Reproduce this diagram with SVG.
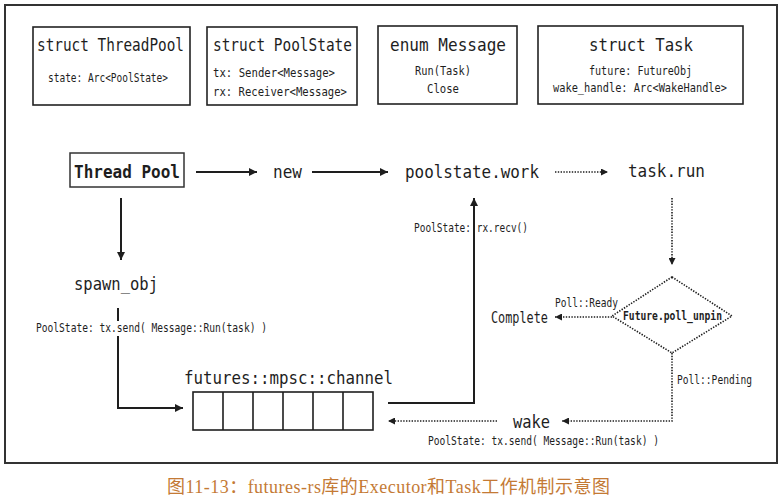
<svg xmlns="http://www.w3.org/2000/svg" width="782" height="499" viewBox="0 0 782 499">
<style>
  text { font-family: "DejaVu Sans Mono", "Liberation Mono", monospace; fill: #1e1e1e; }
  .title { font-size: 17px; }
  .small { font-size: 11.5px; }
  .mid { font-size: 18px; }
  .bold { font-weight: bold; }
  .box { fill: #fff; stroke: #222; stroke-width: 1.6; }
  .solid { fill: none; stroke: #1e1e1e; stroke-width: 2; }
  .dot { fill: none; stroke: #1e1e1e; stroke-width: 1.6; stroke-dasharray: 1.4 1.4; }
  .caption { font-family: "Liberation Serif", "Noto Sans CJK SC", serif; font-size: 18px; fill: #c47a35; }
</style>
<defs>
  <marker id="arr" viewBox="0 0 10 10" refX="10" refY="5" markerUnits="userSpaceOnUse" markerWidth="10" markerHeight="8" orient="auto">
    <path d="M0,0 L10,5 L0,10 z" fill="#1e1e1e"/>
  </marker>
  <marker id="arrs" viewBox="0 0 10 10" refX="10" refY="5" markerUnits="userSpaceOnUse" markerWidth="8" markerHeight="7" orient="auto">
    <path d="M0,0 L10,5 L0,10 z" fill="#1e1e1e"/>
  </marker>
</defs>

<rect x="5" y="5" width="772" height="458" fill="#fff" stroke="#333" stroke-width="2"/>

<g id="struct-threadpool">
  <rect class="box" x="33" y="27" width="157" height="78"/>
  <text class="title" x="37" y="51" textLength="147" lengthAdjust="spacingAndGlyphs">struct ThreadPool</text>
  <text class="small" x="48" y="82" textLength="120" lengthAdjust="spacingAndGlyphs">state: Arc&lt;PoolState&gt;</text>
</g>
<g id="struct-poolstate">
  <rect class="box" x="207" y="27" width="150" height="78"/>
  <text class="title" x="213" y="51" textLength="139" lengthAdjust="spacingAndGlyphs">struct PoolState</text>
  <text class="small" x="213" y="77" textLength="122" lengthAdjust="spacingAndGlyphs">tx: Sender&lt;Message&gt;</text>
  <text class="small" x="213" y="96" textLength="134" lengthAdjust="spacingAndGlyphs">rx: Receiver&lt;Message&gt;</text>
</g>
<g id="enum-message">
  <rect class="box" x="378" y="26" width="139" height="78"/>
  <text class="title" x="390" y="51" textLength="116" lengthAdjust="spacingAndGlyphs">enum Message</text>
  <text class="small" x="415" y="75" textLength="56" lengthAdjust="spacingAndGlyphs">Run(Task)</text>
  <text class="small" x="427" y="93" textLength="32" lengthAdjust="spacingAndGlyphs">Close</text>
</g>
<g id="struct-task">
  <rect class="box" x="538" y="26" width="205" height="78"/>
  <text class="title" x="589" y="51" textLength="104" lengthAdjust="spacingAndGlyphs">struct Task</text>
  <text class="small" x="589" y="75" textLength="103" lengthAdjust="spacingAndGlyphs">future: FutureObj</text>
  <text class="small" x="553" y="92" textLength="174" lengthAdjust="spacingAndGlyphs">wake_handle: Arc&lt;WakeHandle&gt;</text>
</g>

<g id="thread-pool">
  <rect fill="#fff" stroke="#333" stroke-width="1.5" x="70" y="153" width="114" height="34"/>
  <text class="mid bold" x="74" y="178" textLength="106" lengthAdjust="spacingAndGlyphs">Thread Pool</text>
</g>
<g id="new">
  <text class="mid" x="273" y="178" textLength="29" lengthAdjust="spacingAndGlyphs">new</text>
</g>
<g id="poolstate-work">
  <text class="mid" x="405" y="178" textLength="134" lengthAdjust="spacingAndGlyphs">poolstate.work</text>
</g>
<g id="task-run">
  <text class="mid" x="628" y="177" textLength="77" lengthAdjust="spacingAndGlyphs">task.run</text>
</g>
<g id="spawn-obj">
  <text class="mid" x="74" y="290" textLength="84" lengthAdjust="spacingAndGlyphs">spawn_obj</text>
</g>
<g id="channel">
  <text class="mid" x="184" y="384" textLength="209" lengthAdjust="spacingAndGlyphs">futures::mpsc::channel</text>
  <rect fill="#fff" stroke="#1e1e1e" stroke-width="1.6" x="193" y="392" width="180" height="38"/>
  <path d="M223,392V430M253,392V430M283,392V430M313,392V430M343,392V430" stroke="#1e1e1e" stroke-width="1.6" fill="none"/>
</g>
<g id="poll-unpin">
  <path class="dot" d="M672,277 L732,316 L672,353 L612,316 Z"/>
  <text class="small bold" x="623" y="320" textLength="99" lengthAdjust="spacingAndGlyphs">Future.poll_unpin</text>
</g>
<g id="complete">
  <text x="491" y="323" font-size="15" textLength="57" lengthAdjust="spacingAndGlyphs">Complete</text>
</g>
<g id="wake">
  <text class="mid" x="513" y="428" textLength="37" lengthAdjust="spacingAndGlyphs">wake</text>
</g>

<g id="connectors">
  <path class="solid" d="M196,172 H257" marker-end="url(#arr)"/>
  <path class="solid" d="M312,172 H388" marker-end="url(#arr)"/>
  <path class="solid" d="M121,198 V260" marker-end="url(#arr)"/>
  <path class="solid" d="M118,308 V321"/>
  <path class="solid" d="M118,336 V408 H183" marker-end="url(#arr)"/>
  <path class="solid" d="M388,403 H474 V198" marker-end="url(#arr)"/>
  <path class="dot" d="M555,172 H608" marker-end="url(#arrs)"/>
  <path class="dot" d="M672,198 V265" marker-end="url(#arrs)"/>
  <path class="dot" d="M612,317 H555" marker-end="url(#arrs)"/>
  <path class="dot" d="M672,353 V421 H562" marker-end="url(#arrs)"/>
  <path class="dot" d="M497,421 H388" marker-end="url(#arrs)"/>
  <text class="small" x="36" y="332" textLength="231" lengthAdjust="spacingAndGlyphs">PoolState: tx.send( Message::Run(task) )</text>
  <text class="small" x="414" y="232" textLength="114" lengthAdjust="spacingAndGlyphs">PoolState: rx.recv()</text>
  <text class="small" x="555" y="307" textLength="63" lengthAdjust="spacingAndGlyphs">Poll::Ready</text>
  <text class="small" x="677" y="384" textLength="75" lengthAdjust="spacingAndGlyphs">Poll::Pending</text>
  <text class="small" x="428" y="445" textLength="231" lengthAdjust="spacingAndGlyphs">PoolState: tx.send( Message::Run(task) )</text>
</g>

<text class="caption" x="167" y="493" textLength="443" lengthAdjust="spacing">图11-13：futures-rs库的Executor和Task工作机制示意图</text>
</svg>
